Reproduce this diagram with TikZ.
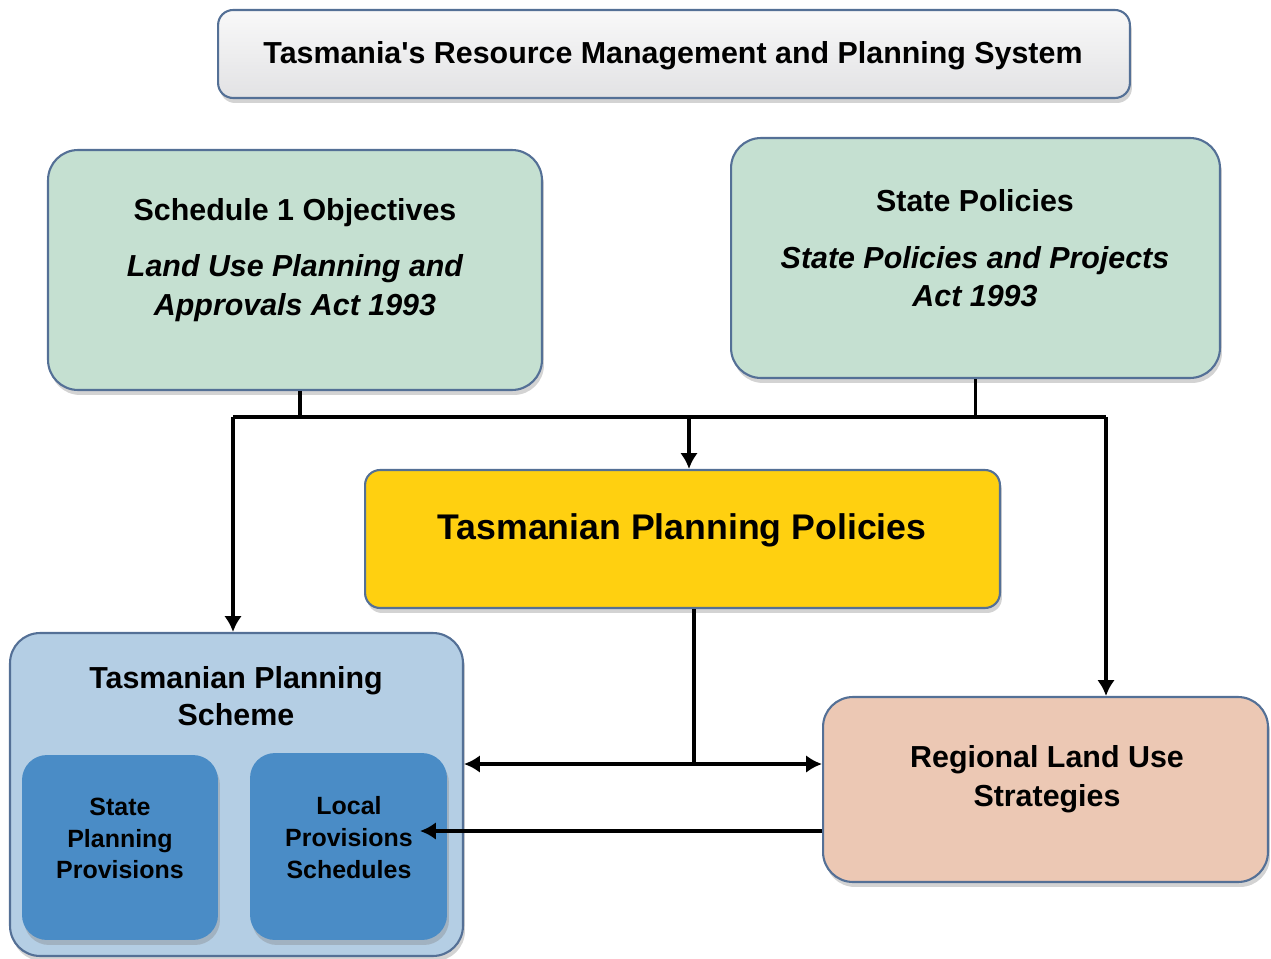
\documentclass[tikz,border=0pt]{standalone}
\usepackage{fontspec}
\setmainfont{Liberation Sans}
\usetikzlibrary{shapes,arrows.meta,shadows}
\definecolor{edgeblue}{RGB}{84,112,150}
\definecolor{titlegray}{RGB}{226,226,228}
\definecolor{sage}{RGB}{197,224,209}
\definecolor{gold}{RGB}{255,208,16}
\definecolor{skyblue}{RGB}{180,206,228}
\definecolor{midblue}{RGB}{74,140,198}
\definecolor{peach}{RGB}{236,200,180}
\tikzstyle{bx}=[rounded corners=0.6cm,draw=edgeblue,line width=1.2pt,
  drop shadow={shadow xshift=0.04cm,shadow yshift=-0.1cm,opacity=0.35}]
\tikzstyle{txt}=[align=center,font=\bfseries]
\tikzstyle{lnk}=[line width=2.2pt,-{Latex[length=9pt,width=10pt]}]
\tikzstyle{bar}=[line width=2.2pt]

\begin{document}
\begin{tikzpicture}[x=0.02cm,y=-0.02cm]
\useasboundingbox (0,0) rectangle (1271,959);
% boxes
\node[bx,rounded corners=0.3cm,top color=gray!5,bottom color=titlegray,minimum width=18.24cm,minimum height=1.76cm] (title) at (674,54) {};
\node[bx,fill=sage,minimum width=9.88cm,minimum height=4.8cm] (sched) at (295,270) {};
\node[bx,fill=sage,minimum width=9.78cm,minimum height=4.8cm] (statepol) at (975.5,258) {};
\node[bx,rounded corners=0.3cm,fill=gold,minimum width=12.7cm,minimum height=2.76cm] (tpp) at (682.5,539) {};
\node[bx,fill=skyblue,minimum width=9.06cm,minimum height=6.46cm] (tps) at (236.5,794.5) {};
\node[bx,rounded corners=0.5cm,draw=none,fill=midblue,minimum width=3.92cm,minimum height=3.7cm] (spp) at (120,847.5) {};
\node[bx,rounded corners=0.5cm,draw=none,fill=midblue,minimum width=3.94cm,minimum height=3.74cm] (lps) at (348.5,846.5) {};
\node[bx,fill=peach,minimum width=8.9cm,minimum height=3.7cm] (rlus) at (1045.5,789.5) {};
% texts
\node[txt,font=\bfseries\fontsize{17.3}{20}\selectfont] (titletxt) at (673,56) {Tasmania\textquotesingle s Resource Management and Planning System};
\node[txt,font=\bfseries\fontsize{17.3}{22}\selectfont] (schedtxt) at (295,260) {Schedule 1 Objectives\\[10pt]\itshape Land Use Planning and\\\itshape Approvals Act 1993};
\node[txt,font=\bfseries\fontsize{17.3}{22}\selectfont] (statetxt) at (975,248.5) {State Policies\\[10pt]\itshape State Policies and Projects\\\itshape Act 1993};
\node[txt,font=\bfseries\fontsize{20.3}{22}\selectfont] (tpptxt) at (682,530) {Tasmanian Planning Policies};
\node[txt,font=\bfseries\fontsize{17.3}{21}\selectfont] (tpstxt) at (236,696) {Tasmanian Planning\\Scheme};
\node[txt,font=\bfseries\fontsize{14.2}{18}\selectfont] (spptxt) at (120,838.5) {State\\Planning\\Provisions};
\node[txt,font=\bfseries\fontsize{14.2}{18}\selectfont] (lpstxt) at (349,837.5) {Local\\Provisions\\Schedules};
\node[txt,font=\bfseries\fontsize{17.3}{22}\selectfont] (rlustxt) at (1047,779.5) {Regional Land Use\\Strategies};
% connectors
\coordinate (busL) at (233,417);
\coordinate (busR) at (1106,417);
\coordinate (split) at (694,764);
\coordinate (lpsin) at (420,831);
\draw[bar] (sched.south -| 300,0) -- (300,417);
\draw[bar] (statepol.south) -- (statepol.south |- busL);
\draw[bar] (busL) -- (busR);
\draw[lnk] (busL) -- (busL |- tps.north);
\draw[lnk] (689,417) -- (tpp.north -| 689,0);
\draw[lnk] (busR) -- (busR |- rlus.north);
\draw[bar] (tpp.south -| split) -- (split);
\draw[lnk] (split) -- (tps.east |- split);
\draw[lnk] (split) -- (rlus.west |- split);
\draw[lnk] (rlus.west |- lpsin) -- (lpsin);
\end{tikzpicture}
\end{document}
